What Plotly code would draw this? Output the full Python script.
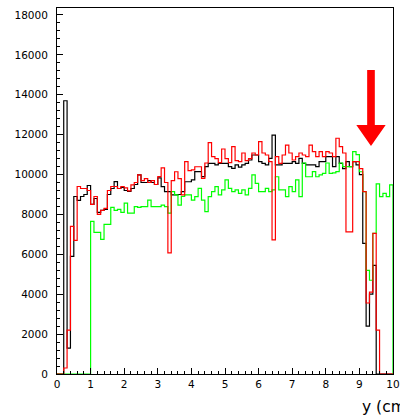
import numpy as np
import plotly.graph_objects as go

# ---- data (100 bins of 0.1 cm from 0 to 10) ----
bin_lo = 0.0
bin_hi = 10.0
n_bins = 100

black_counts = [
    0, 0, 13700, 1300, 5900, 8900, 8700, 8900, 9000, 9450,
    8500, 8800, 8100, 8200, 8250, 9000, 9300, 9650, 9300, 9350,
    9200, 9150, 9300, 9500, 9980, 9600, 9600, 9700, 9600, 9500,
    9830, 9390, 9140, 9140, 8980, 8980, 9000, 9140, 9640, 9640,
    9730, 10150, 10150, 9900, 10400, 10560, 10560, 10480, 10560, 10560,
    10560, 10400, 10310, 10480, 10370, 10480, 10560, 10730, 10980, 10980,
    10650, 10560, 10480, 10810, 11980, 10480, 10480, 10560, 10560, 10560,
    10650, 10560, 10810, 10560, 10480, 10480, 10480, 10400, 10650, 10650,
    10900, 10900, 10400, 10900, 10560, 10300, 10650, 10400, 10650, 10480,
    10000, 6550, 2400, 4000, 5450, 0, 0, 0, 0, 0,
]

red_counts = [
    0, 0, 300, 2200, 7400, 6700, 9400, 9300, 9300, 9200,
    8500, 8900, 8000, 8200, 8300, 9200, 9400, 9400, 9300, 9400,
    9330, 9180, 9480, 9600, 9980, 9700, 9800, 9600, 9700, 9500,
    9900, 10330, 9600, 6070, 9700, 10140, 9800, 8980, 10650, 10200,
    10230, 10390, 10390, 9810, 10580, 11600, 10900, 10800, 10600, 11280,
    10800, 10600, 11400, 10700, 10650, 11080, 10700, 10800, 11080, 10980,
    11650, 11080, 10980, 10650, 6720, 10900, 10560, 10980, 11480, 11080,
    10730, 10900, 11080, 10980, 10900, 11480, 11150, 10900, 11150, 10900,
    11150, 11080, 10900, 11820, 11400, 11080, 7130, 7130, 10650, 10650,
    10300, 9140, 3560, 4100, 7050, 2200, 0, 0, 0, 0,
]

green_counts = [
    0, 0, 0, 0, 0, 0, 0, 0, 0, 0,
    7650, 7100, 7100, 6750, 7500, 7500, 8350, 8200, 8250, 8100,
    8570, 8070, 8070, 8390, 8350, 8390, 8390, 8720, 8390, 8390,
    8390, 8470, 8390, 8070, 9140, 8980, 8470, 8900, 8980, 8980,
    8720, 8890, 9310, 8720, 8140, 8890, 9140, 9390, 8980, 9230,
    9730, 9310, 9140, 9230, 9060, 9230, 8980, 9310, 9980, 9560,
    9140, 9140, 9310, 9140, 9230, 9890, 9230, 9230, 8890, 9390,
    9140, 9730, 8890, 10580, 9890, 9890, 10150, 9890, 9980, 10060,
    10580, 10060, 10080, 10150, 10580, 10400, 10400, 10400, 11150, 11000,
    10140, 9140, 5200, 4700, 7050, 9530, 8890, 9060, 8890, 9480,
]

x_tick_vals = list(range(0, 11))
x_tick_text = [str(v) for v in x_tick_vals]
y_tick_vals = list(range(0, 18001, 2000))
y_tick_text = [str(v) for v in y_tick_vals]
x_title = "y (cm)"

# arrow annotation (data coordinates)
arrow_x = 9.345
arrow_top = 15240
arrow_head_base = 12480
arrow_tip = 11430
arrow_shaft_half = 0.114
arrow_head_half = 0.437

edges = np.linspace(bin_lo, bin_hi, n_bins + 1)


def step_xy(counts):
    xs = [edges[0]] + list(edges[:-1]) + [edges[-1]]
    ys = [0] + list(counts) + [0]
    return xs, ys


fig = go.Figure()
for counts, color in [(black_counts, "black"), (green_counts, "#00ff00"), (red_counts, "#ff0000")]:
    xs, ys = step_xy(counts)
    fig.add_trace(go.Scatter(x=xs, y=ys, mode="lines",
                             line=dict(shape="hv", color=color, width=1.2),
                             hoverinfo="skip", showlegend=False))

arrow_path = (
    f"M {arrow_x - arrow_shaft_half} {arrow_top} "
    f"L {arrow_x + arrow_shaft_half} {arrow_top} "
    f"L {arrow_x + arrow_shaft_half} {arrow_head_base} "
    f"L {arrow_x + arrow_head_half} {arrow_head_base} "
    f"L {arrow_x} {arrow_tip} "
    f"L {arrow_x - arrow_head_half} {arrow_head_base} "
    f"L {arrow_x - arrow_shaft_half} {arrow_head_base} Z"
)
fig.add_shape(type="path", path=arrow_path, xref="x", yref="y",
              fillcolor="#ff0000", line=dict(width=0), layer="above")

font = dict(family="DejaVu Sans", size=10.5, color="black")

fig.update_layout(
    width=400, height=415,
    margin=dict(l=57, r=7, t=8, b=41, autoexpand=False),
    paper_bgcolor="white", plot_bgcolor="white",
    font=font,
    xaxis=dict(range=[0, 10], tickvals=x_tick_vals, ticktext=x_tick_text,
               ticks="inside", ticklen=6, tickcolor="black", tickwidth=1,
               minor=dict(dtick=0.2, ticks="inside", ticklen=3, tickcolor="black", tickwidth=1),
               showline=True, linecolor="black", linewidth=1, mirror=True,
               showgrid=False, zeroline=False, tickfont=font, automargin=False),
    yaxis=dict(range=[0, 18350], tickvals=y_tick_vals, ticktext=y_tick_text,
               ticks="inside", ticklen=6, tickcolor="black", tickwidth=1,
               minor=dict(dtick=400, ticks="inside", ticklen=3, tickcolor="black", tickwidth=1),
               showline=True, linecolor="black", linewidth=1, mirror=True,
               showgrid=False, zeroline=False, tickfont=font, ticklabelstandoff=6,
               automargin=False),
    annotations=[dict(text=x_title, xref="paper", yref="paper", x=0.902, y=-0.09,
                      xanchor="left", yanchor="middle", showarrow=False,
                      font=dict(family="DejaVu Sans", size=15.5, color="black"))],
)

fig.write_html("out.html")
